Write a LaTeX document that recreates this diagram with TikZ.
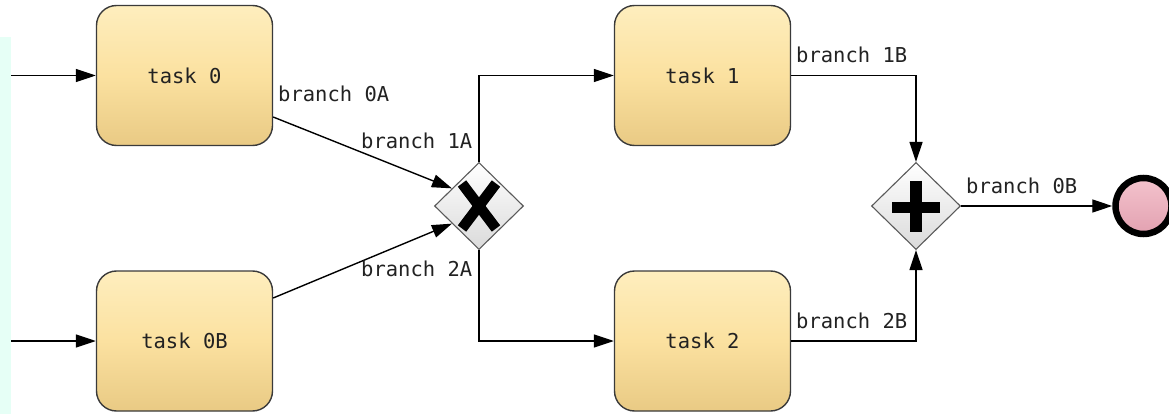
\documentclass[tikz,border=0pt]{standalone}
\usepackage{fontspec}
\setmonofont{DejaVu Sans Mono}
\usetikzlibrary{arrows.meta,shapes.geometric,calc}
\definecolor{taskTop}{HTML}{FEEEBE}
\definecolor{taskMid}{HTML}{FBE1A0}
\definecolor{taskBot}{HTML}{E9CA84}
\definecolor{taskLine}{HTML}{3A3A3A}
\definecolor{gwLine}{HTML}{5A5A5A}
\definecolor{gwBot}{HTML}{DADADA}
\definecolor{endTop}{HTML}{F4C3CD}
\definecolor{endBot}{HTML}{E2A1B1}
\definecolor{strip}{HTML}{E6FFF6}
\definecolor{txt}{HTML}{222222}
\begin{document}
\begin{tikzpicture}[x=1pt,y=-1pt,
  task/.style={rectangle, rounded corners=20pt, draw=taskLine, line width=1.4pt,
    minimum width=176pt, minimum height=140pt, inner sep=0pt,
    top color=taskTop, bottom color=taskBot, middle color=taskMid,
    font=\ttfamily\fontsize{20.5}{24}\selectfont, text=txt},
  gateway/.style={diamond, draw=gwLine, line width=1.1pt, inner sep=0pt,
    minimum width=89pt, minimum height=87pt, top color=white, bottom color=gwBot},
  endevent/.style={circle, draw=black, line width=6.5pt, minimum size=56pt,
    inner sep=0pt, top color=endTop, bottom color=endBot},
  lbl/.style={anchor=west, inner sep=0pt, text=txt,
    font=\ttfamily\fontsize{20.5}{24}\selectfont},
  flow/.style={draw=black, line width=1.4pt,
    -{Triangle[length=20pt,width=13pt]}},
  mark/.style={line width=#1, line cap=butt}
]
\useasboundingbox (0,0) rectangle (1169,414);
\fill[strip] (0,37) rectangle (11,414);

% activities
\node[task] (t0)  at (184.5,75.5) {task 0};
\node[task] (t0b) at (184.5,341)  {task 0B};
\node[task] (t1)  at (702.5,75.5) {task 1};
\node[task] (t2)  at (702.5,341)  {task 2};

% gateways
\node[gateway] (xor) at (479,206) {};
\node[gateway] (and) at (916,206) {};
\draw[mark=10.5pt] ($(xor)+(-17,-22.5)$) -- ($(xor)+(17,22.5)$);
\draw[mark=10.5pt] ($(xor)+(17,-22.5)$) -- ($(xor)+(-17,22.5)$);
\draw[mark=12pt] ($(and)+(0,-25)$) -- ($(and)+(0,26)$);
\draw[mark=11pt] ($(and)+(-24,1)$) -- ($(and)+(24,1)$);

% end event
\node[endevent] (end) at (1143.5,206) {};

% incoming flows
\coordinate (in0)  at (11,75.5);
\coordinate (in0b) at (11,341);
\draw[flow] (in0) -- (t0);
\draw[flow] (in0b) -- (t0b);

% sequence flows
\draw[flow] ([yshift=-41.5pt]t0.east) -- ($(xor.west)!0.4!(xor.north)$);
\draw[flow] ([yshift=43pt]t0b.east) -- ($(xor.west)!0.4!(xor.south)$);
\draw[flow] (xor.north) |- (t1.west);
\draw[flow] (xor.south) |- (t2.west);
\draw[flow] (t1.east) -| (and.north);
\draw[flow] (t2.east) -| (and.south);
\draw[flow] (and.east) -- (end.west);

% flow labels
\node[lbl] (b0a) at (278,93.5)  {branch 0A};
\node[lbl] (b1a) at (361,141)   {branch 1A};
\node[lbl] (b2a) at (361,268.5) {branch 2A};
\node[lbl] (b1b) at (796,55)    {branch 1B};
\node[lbl] (b0b) at (966,185.5) {branch 0B};
\node[lbl] (b2b) at (796,320.5) {branch 2B};
\end{tikzpicture}
\end{document}
